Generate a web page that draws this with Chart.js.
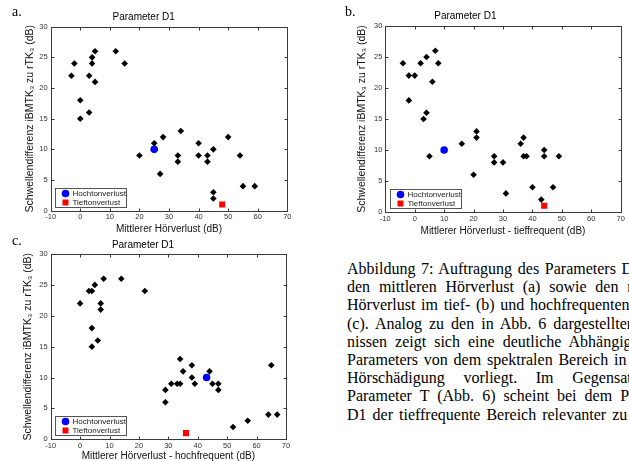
<!DOCTYPE html>
<html>
<head>
<meta charset="utf-8">
<script src="https://cdn.jsdelivr.net/npm/chart.js@4.4.0/dist/chart.umd.min.js"></script>
<style>
  html, body { margin: 0; padding: 0; background: #fff; }
  body { width: 629px; height: 461px; overflow: hidden; position: relative; }
  canvas { position: absolute; }
  .tag { position: absolute; font-family: "Liberation Serif", "Times New Roman", serif; font-size: 14px; line-height: 14px; color: #000; }
  #caption { position: absolute; left: 347px; top: 260px; width: 338px;
    font-family: "Liberation Serif", "Times New Roman", serif; font-size: 16px; line-height: 18.2px; color: #000; }
  #caption div { text-align: justify; text-align-last: justify; white-space: normal; height: 18.2px; overflow: hidden; }
  #caption div.last { text-align-last: left; word-spacing: 2px; }
</style>
</head>
<body>
<canvas id="chartA" width="300" height="240" style="left:0;top:0"></canvas>
<canvas id="chartB" width="319" height="240" style="left:310px;top:0"></canvas>
<canvas id="chartC" width="310" height="235" style="left:0;top:230px"></canvas>
<div class="tag" style="left:12px;top:5px">a.</div>
<div class="tag" style="left:345px;top:5px">b.</div>
<div class="tag" style="left:12px;top:234px">c.</div>
<div id="caption">
  <div>Abbildung 7: Auftragung des Parameters D1 gegen</div>
  <div>den mittleren Hörverlust (a) sowie den mittleren</div>
  <div>Hörverlust im tief- (b) und hochfrequenten Bereich</div>
  <div>(c). Analog zu den in Abb. 6 dargestellten Ergeb-</div>
  <div>nissen zeigt sich eine deutliche Abhängigkeit des</div>
  <div>Parameters von dem spektralen Bereich in dem die</div>
  <div>Hörschädigung vorliegt. Im Gegensatz zum</div>
  <div>Parameter T (Abb. 6) scheint bei dem Parameter</div>
  <div class="last">D1 der tieffrequente Bereich relevanter zu sein.</div>
</div>
<script>
// a. mean hearing loss
const aX = [-3, -2, 0, 0, 3, 3, 4, 4, 5, 5, 12, 15, 20, 25, 27, 28, 33, 33, 34, 40, 40, 43, 43, 45, 50, 54, 55, 59, 45, 45];
const aY = [22, 24, 18, 15, 22, 16, 25, 24, 26, 21, 26, 24, 9, 11, 6, 12, 9, 8, 13, 11, 9, 9, 8, 10, 12, 9, 4, 4, 3, 2];
const aHoch = [25, 10];
const aTief = [48, 1];

// b. low frequency
const bX = [-4, -2, -2, 0, 2, 4, 7, 8, 6, 4, 3, 5, 16, 21, 21, 20, 27, 27, 30, 31, 36, 37, 37, 38, 40, 43, 44, 44, 47, 49];
const bY = [24, 22, 18, 22, 24, 25, 26, 24, 21, 16, 15, 9, 11, 13, 12, 6, 9, 8, 8, 3, 11, 12, 9, 9, 4, 2, 10, 9, 4, 9];
const bHoch = [10, 10];
const bTief = [44, 1];

// c. high frequency
const cX = [0, 3, 4, 5, 8, 14, 22, 7, 7, 4, 6, 4, 34, 38, 35, 44, 38, 39, 31, 33, 34, 45, 47, 47, 29, 29, 52, 57, 64, 67, 65];
const cY = [22, 24, 24, 25, 26, 26, 24, 22, 21, 18, 16, 15, 13, 12, 11, 11, 10, 9, 9, 9, 9, 9, 9, 8, 8, 6, 2, 3, 4, 4, 12];
const cHoch = [43, 10];
const cTief = [36, 1];

const xTicks = [-10, 0, 10, 20, 30, 40, 50, 60, 70];
const yTicks = [0, 5, 10, 15, 20, 25, 30];
const legendNames = ['Hochtonverlust', 'Tieftonverlust'];
const chartTitle = 'Parameter D1';
const yTitle = 'Schwellendifferenz iBMTK\u2083 zu rTK\u2083 (dB)';

const FONT = '"Liberation Sans", Arial, sans-serif';

// box, inner ticks on all sides and legend inside the axes (matlab look)
const matlabBox = {
  id: 'matlabBox',
  afterDatasetsDraw(chart) {
    const { ctx, chartArea: a, scales: { x, y } } = chart;
    const L = Math.round(a.left) + 0.5, R = Math.round(a.right) + 0.5;
    const T = Math.round(a.top) + 0.5, B = Math.round(a.bottom) + 0.5;
    ctx.save();
    ctx.strokeStyle = '#3a3a3a';
    ctx.lineWidth = 1;
    ctx.strokeRect(L, T, R - L, B - T);
    ctx.beginPath();
    x.ticks.forEach(t => {
      const px = Math.round(x.getPixelForValue(t.value)) + 0.5;
      ctx.moveTo(px, B); ctx.lineTo(px, B - 3);
      ctx.moveTo(px, T); ctx.lineTo(px, T + 3);
    });
    y.ticks.forEach(t => {
      const py = Math.round(y.getPixelForValue(t.value)) + 0.5;
      ctx.moveTo(L, py); ctx.lineTo(L + 3, py);
      ctx.moveTo(R, py); ctx.lineTo(R - 3, py);
    });
    ctx.stroke();

    // legend
    const items = chart.data.datasets.filter(d => d.inLegend);
    const bx = Math.round(a.left + 4.5) + 0.5;
    const bh = 19, bw = 71;
    const by = Math.round(a.bottom - 4 - bh) + 0.5;
    ctx.fillStyle = '#fff';
    ctx.fillRect(bx, by, bw, bh);
    ctx.strokeStyle = '#555';
    ctx.strokeRect(bx, by, bw, bh);
    ctx.font = '8px ' + FONT;
    ctx.textBaseline = 'middle';
    items.forEach((d, i) => {
      const cy = by + 5 + i * 9;
      ctx.fillStyle = d.backgroundColor;
      ctx.beginPath();
      if (d.pointStyle === 'circle') ctx.arc(bx + 10, cy, d.pointRadius, 0, Math.PI * 2);
      else ctx.rect(bx + 10 - 3, cy - 3, 6, 6);
      ctx.fill();
      ctx.fillStyle = '#222';
      ctx.fillText(d.label, bx + 17, cy + 0.5);
    });
    ctx.restore();
  }
};

function pts(xs, ys) {
  return xs.map((v, i) => ({ x: v, y: ys[i] }));
}

function makeChart(id, xs, ys, hoch, tief, xTitle, g) {
  const ctx = document.getElementById(id).getContext('2d');
  return new Chart(ctx, {
    type: 'scatter',
    data: {
      datasets: [
        { label: 'Daten', data: pts(xs, ys), pointStyle: 'rectRot', pointRadius: 3.3,
          backgroundColor: '#000', borderColor: '#000', borderWidth: 0 },
        { label: legendNames[0], inLegend: true, data: [{ x: hoch[0], y: hoch[1] }], pointStyle: 'circle',
          pointRadius: 3.8, backgroundColor: '#0000ff', borderColor: '#0000ff', borderWidth: 0 },
        { label: legendNames[1], inLegend: true, data: [{ x: tief[0], y: tief[1] }], pointStyle: 'rect',
          pointRadius: 4.3, backgroundColor: '#ff0000', borderColor: '#ff0000', borderWidth: 0 }
      ]
    },
    options: {
      responsive: false,
      animation: false,
      devicePixelRatio: 1,
      layout: { padding: { left: 0, right: g.padR, top: 0, bottom: 0 } },
      plugins: {
        legend: { display: false },
        tooltip: { enabled: false },
        title: {
          display: true, text: chartTitle, color: '#000',
          font: { family: FONT, size: 10, weight: 'normal' },
          padding: { top: g.titleTop, bottom: g.titleBottom }
        }
      },
      scales: {
        x: {
          type: 'linear', min: -10, max: 70,
          afterBuildTicks: s => { s.ticks = xTicks.map(v => ({ value: v })); },
          afterFit: s => { s.height = g.xH; },
          grid: { display: false, drawTicks: false },
          border: { display: false },
          ticks: { color: '#333', padding: 2, maxRotation: 0, font: { family: FONT, size: 7.5 } },
          title: { display: true, text: xTitle, color: '#111',
            font: { family: FONT, size: 10 }, padding: { top: 0, bottom: g.xTitleB } }
        },
        y: {
          type: 'linear', min: 0, max: 30,
          afterBuildTicks: s => { s.ticks = yTicks.map(v => ({ value: v })); },
          afterFit: s => { s.width = g.yW; },
          grid: { display: false, drawTicks: false },
          border: { display: false },
          ticks: { color: '#333', padding: 3, font: { family: FONT, size: 7.5 } },
          title: { display: true, text: yTitle, color: '#111',
            font: { family: FONT, size: 10.5 }, padding: { top: g.yTitleT, bottom: 0 } }
        }
      }
    },
    plugins: [matlabBox]
  });
}

makeChart('chartA', aX, aY, aHoch, aTief, 'Mittlerer Hörverlust (dB)',
  { padR: 12.7, titleTop: 11, titleBottom: 3.7, xH: 29.3, xTitleB: 4.5, yW: 50.7, yTitleT: 24 });
makeChart('chartB', bX, bY, bHoch, bTief, 'Mittlerer Hörverlust - tieffrequent (dB)',
  { padR: 8.3, titleTop: 10.5, titleBottom: 3.5, xH: 28, xTitleB: 3, yW: 75.3, yTitleT: 45.5 });
makeChart('chartC', cX, cY, cHoch, cTief, 'Mittlerer Hörverlust - hochfrequent (dB)',
  { padR: 24, titleTop: 9, titleBottom: 3, xH: 25.7, xTitleB: 2.3, yW: 50.7, yTitleT: 22 });
</script>
</body>
</html>
